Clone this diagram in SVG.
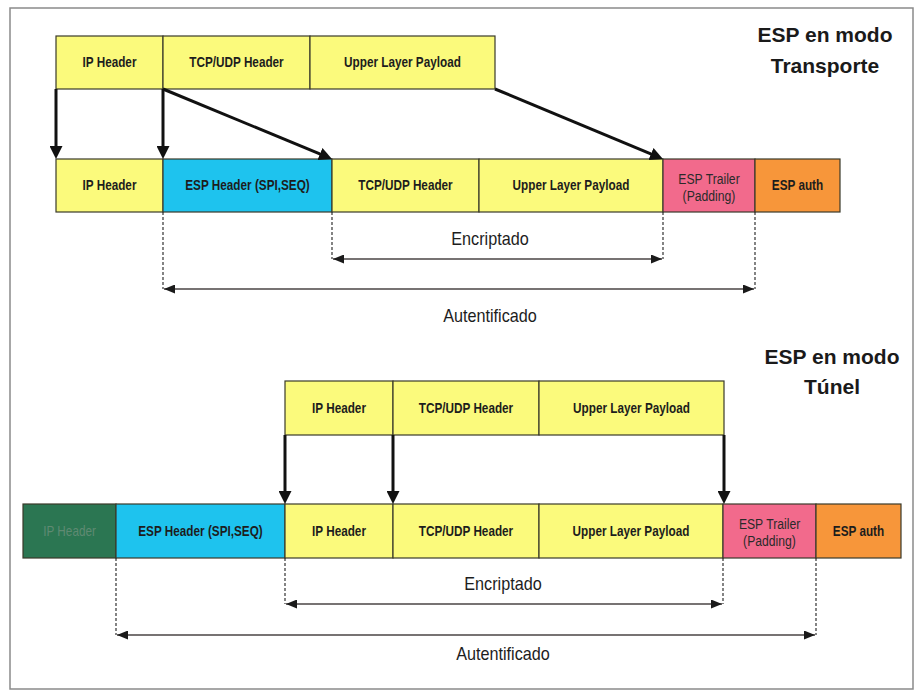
<svg xmlns="http://www.w3.org/2000/svg" width="916" height="691" viewBox="0 0 916 691">
  <style>
    .box { stroke: #3a3a2a; stroke-width: 1.2; }
    .yel { fill: #fbfa7c; }
    .cyan { fill: #1ec3ee; }
    .pink { fill: #f26a8c; }
    .orange { fill: #f7963a; }
    .green { fill: #2b7652; }
    .lbl, .lbl-n, .span { transform-box: fill-box; transform-origin: center; }
    .lbl { font-family: "Liberation Sans", Arial, sans-serif; font-size: 14px; font-weight: bold; fill: #1d1d1d; text-anchor: middle; transform: scaleX(0.84); }
    .lbl-n { font-family: "Liberation Sans", Arial, sans-serif; font-size: 14px; fill: #2a2a2a; text-anchor: middle; transform: scaleX(0.87); }
    .faded { fill: #5f8a72; font-weight: normal; }
    .title { font-family: "Liberation Sans", Arial, sans-serif; font-size: 21px; font-weight: bold; fill: #1a1a1a; text-anchor: middle; }
    .span { font-family: "Liberation Sans", Arial, sans-serif; font-size: 18px; fill: #1d1d1d; text-anchor: middle; transform: scaleX(0.9); }
    .move { stroke: #111; stroke-width: 3; fill: none; marker-end: url(#bigHead); }
    .guide { stroke: #333; stroke-width: 1.2; stroke-dasharray: 3 2; fill: none; }
    .range { stroke: #4a4444; stroke-width: 1.6; fill: none; marker-start: url(#smallHead); marker-end: url(#smallHead); }
  </style>
  <defs>
    <marker id="bigHead" viewBox="0 0 10 10" markerWidth="13" markerHeight="13" refX="3.85" refY="5" orient="auto" markerUnits="userSpaceOnUse">
      <path d="M0,0 L10,5 L0,10 Z" fill="#111"/>
    </marker>
    <marker id="smallHead" viewBox="0 0 10 10" markerWidth="11" markerHeight="9" refX="10" refY="5" orient="auto-start-reverse" markerUnits="userSpaceOnUse" preserveAspectRatio="none">
      <path d="M0,0 L10,5 L0,10 Z" fill="#1a1a1a"/>
    </marker>
  </defs>

  <rect x="0" y="0" width="916" height="691" fill="#ffffff"/>
  <rect x="10" y="8" width="903" height="681" fill="none" stroke="#8a8a8a" stroke-width="1.5"/>

  <!-- Transport mode: original packet -->
  <g id="t-orig-ip">
    <rect class="box yel" x="56" y="36" width="107" height="53"/>
    <text class="lbl" x="109.5" y="67">IP Header</text>
  </g>
  <g id="t-orig-tcp">
    <rect class="box yel" x="163" y="36" width="147" height="53"/>
    <text class="lbl" x="236.5" y="67">TCP/UDP Header</text>
  </g>
  <g id="t-orig-payload">
    <rect class="box yel" x="310" y="36" width="185" height="53"/>
    <text class="lbl" x="402.5" y="67">Upper Layer Payload</text>
  </g>

  <!-- Transport mode: ESP packet -->
  <g id="t-ip">
    <rect class="box yel" x="56" y="159" width="107" height="53"/>
    <text class="lbl" x="109.5" y="190">IP Header</text>
  </g>
  <g id="t-esp-header">
    <rect class="box cyan" x="163" y="159" width="169" height="53"/>
    <text class="lbl" x="247.5" y="190">ESP Header (SPI,SEQ)</text>
  </g>
  <g id="t-tcp">
    <rect class="box yel" x="332" y="159" width="147" height="53"/>
    <text class="lbl" x="405.5" y="190">TCP/UDP Header</text>
  </g>
  <g id="t-payload">
    <rect class="box yel" x="479" y="159" width="184" height="53"/>
    <text class="lbl" x="571" y="190">Upper Layer Payload</text>
  </g>
  <g id="t-trailer">
    <rect class="box pink" x="663" y="159" width="92" height="53"/>
    <text class="lbl-n" x="709" y="184">ESP Trailer</text>
    <text class="lbl-n" x="709" y="201">(Padding)</text>
  </g>
  <g id="t-auth">
    <rect class="box orange" x="755" y="159" width="85" height="53"/>
    <text class="lbl" x="797.5" y="190">ESP auth</text>
  </g>

  <g id="t-title">
    <text class="title" x="825" y="42">ESP en modo</text>
    <text class="title" x="825" y="73">Transporte</text>
  </g>

  <!-- Tunnel mode: original packet -->
  <g id="u-orig-ip">
    <rect class="box yel" x="285" y="381" width="108" height="54"/>
    <text class="lbl" x="339" y="413">IP Header</text>
  </g>
  <g id="u-orig-tcp">
    <rect class="box yel" x="393" y="381" width="146" height="54"/>
    <text class="lbl" x="466" y="413">TCP/UDP Header</text>
  </g>
  <g id="u-orig-payload">
    <rect class="box yel" x="539" y="381" width="185" height="54"/>
    <text class="lbl" x="631.5" y="413">Upper Layer Payload</text>
  </g>

  <!-- Tunnel mode: ESP packet -->
  <g id="u-new-ip">
    <rect class="box green" x="23" y="504" width="93" height="54"/>
    <text class="lbl faded" x="69.5" y="536">IP Header</text>
  </g>
  <g id="u-esp-header">
    <rect class="box cyan" x="116" y="504" width="169" height="54"/>
    <text class="lbl" x="200.5" y="536">ESP Header (SPI,SEQ)</text>
  </g>
  <g id="u-ip">
    <rect class="box yel" x="285" y="504" width="108" height="54"/>
    <text class="lbl" x="339" y="536">IP Header</text>
  </g>
  <g id="u-tcp">
    <rect class="box yel" x="393" y="504" width="146" height="54"/>
    <text class="lbl" x="466" y="536">TCP/UDP Header</text>
  </g>
  <g id="u-payload">
    <rect class="box yel" x="539" y="504" width="184" height="54"/>
    <text class="lbl" x="631" y="536">Upper Layer Payload</text>
  </g>
  <g id="u-trailer">
    <rect class="box pink" x="723" y="504" width="93" height="54"/>
    <text class="lbl-n" x="769.5" y="529">ESP Trailer</text>
    <text class="lbl-n" x="769.5" y="546">(Padding)</text>
  </g>
  <g id="u-auth">
    <rect class="box orange" x="816" y="504" width="85" height="54"/>
    <text class="lbl" x="858.5" y="536">ESP auth</text>
  </g>

  <g id="u-title">
    <text class="title" x="832" y="364">ESP en modo</text>
    <text class="title" x="832" y="394">Túnel</text>
  </g>

  <!-- Connectors -->
  <g id="connectors">
    <!-- transport: field moves -->
    <line class="move" x1="56" y1="89" x2="56" y2="151"/>
    <line class="move" x1="163" y1="89" x2="163" y2="151"/>
    <line class="move" x1="163" y1="89" x2="324.6" y2="155.9"/>
    <line class="move" x1="495" y1="89" x2="655.6" y2="155.9"/>

    <!-- transport: coverage guides -->
    <line class="guide" x1="163" y1="212" x2="163" y2="289"/>
    <line class="guide" x1="332" y1="212" x2="332" y2="259"/>
    <line class="guide" x1="663" y1="212" x2="663" y2="259"/>
    <line class="guide" x1="755" y1="212" x2="755" y2="289"/>
    <line class="range" x1="333" y1="259" x2="662" y2="259"/>
    <line class="range" x1="164" y1="289" x2="754" y2="289"/>

    <!-- tunnel: field moves -->
    <line class="move" x1="285" y1="435" x2="285" y2="496"/>
    <line class="move" x1="393" y1="435" x2="393" y2="496"/>
    <line class="move" x1="724" y1="435" x2="724" y2="496"/>

    <!-- tunnel: coverage guides -->
    <line class="guide" x1="116" y1="558" x2="116" y2="635"/>
    <line class="guide" x1="285" y1="558" x2="285" y2="604"/>
    <line class="guide" x1="723" y1="558" x2="723" y2="604"/>
    <line class="guide" x1="816" y1="558" x2="816" y2="635"/>
    <line class="range" x1="286" y1="604" x2="722" y2="604"/>
    <line class="range" x1="117" y1="635" x2="815" y2="635"/>
  </g>

  <g id="span-labels">
    <text class="span" x="490" y="245">Encriptado</text>
    <text class="span" x="490" y="322">Autentificado</text>
    <text class="span" x="503" y="590">Encriptado</text>
    <text class="span" x="503" y="660">Autentificado</text>
  </g>
</svg>
